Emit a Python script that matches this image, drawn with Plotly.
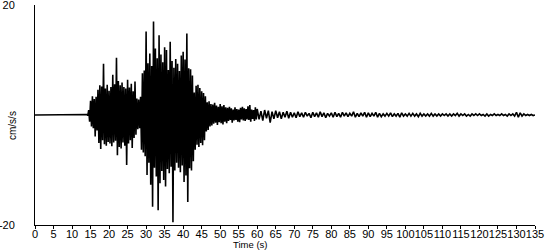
import numpy as np
import plotly.graph_objects as go

# Quiet lead-in (s, cm/s/s)
t_lead = [0.0, 13.75]
v_lead = [0.0, 0.0]

# Strong-motion part: samples every 0.25 s starting at 14.0 s (4 per line = 1 s)
dt_dense = 0.25
t_dense_start = 14.0
v_dense = [
    0.1, -0.1, 0.9, -1.2,     # 14
    2.6, -2.1, 3.4, -2.4,     # 15
    2.9, -3.9, 3.3, -2.8,     # 16
    4.6, -5.1, 5.4, -6.2,     # 17
    5.2, -4.6, 9.3, -5.3,     # 18
    4.8, -5.6, 5.5, -4.9,     # 19
    4.4, -5.2, 5.1, -5.7,     # 20
    7.3, -5.0, 5.6, -4.7,     # 21
    10.4, -7.3, 6.2, -5.8,    # 22
    5.4, -6.1, 5.9, -5.0,     # 23
    5.1, -5.6, 4.8, -9.1,     # 24
    6.4, -5.2, 5.0, -4.6,     # 25
    5.7, -6.0, 4.3, -4.2,     # 26
    6.1, -3.6, 3.0, -2.6,     # 27
    2.8, -2.4, 3.3, -6.3,     # 28
    7.6, -6.8, 8.1, -7.5,     # 29
    15.2, -10.9, 9.4, -8.7,   # 30
    11.2, -12.7, 8.9, -16.7,  # 31
    17.0, -9.6, 12.1, -11.2,  # 32
    10.3, -17.3, 14.5, -12.4, # 33
    11.0, -10.2, 9.6, -11.8,  # 34
    12.3, -13.0, 11.8, -9.8,  # 35
    8.2, -10.6, 13.3, -9.4,   # 36
    9.8, -19.5, 8.6, -10.1,   # 37
    10.2, -8.7, 9.3, -9.6,    # 38
    8.0, -10.4, 10.8, -9.2,   # 39
    11.5, -12.2, 10.1, -11.0, # 40
    14.8, -15.8, 8.5, -9.7,   # 41
    8.3, -10.1, 7.2, -8.4,    # 42
    4.1, -6.3, 5.3, -5.4,     # 43
    5.5, -5.8, 4.9, -5.1,     # 44
    4.3, -5.5, 4.0, -4.6,     # 45
    3.4, -3.0, 2.3, -2.7,     # 46
    2.5, -2.1, 2.0, -1.9,     # 47
    1.9, -1.6, 2.2, -1.4,     # 48
    1.7, -1.8, 1.5, -1.3,     # 49
    2.0, -1.5, 1.6, -1.7,     # 50
    1.8, -1.2, 1.4, -1.5,     # 51
    1.3, -1.1, 1.5, -0.9,     # 52
    1.2, -1.4, 1.0, -1.0,     # 53
    1.4, -0.9, 1.1, -1.2,     # 54
    1.0, -1.3, 1.3, -0.8,     # 55
    1.5, -1.0, 1.2, -1.1,     # 56
    1.1, -0.8, 1.6, -0.9,     # 57
    1.8, -1.2, 1.0, -0.7,     # 58
    0.9, -1.1, 1.4, -0.8,     # 59
]

# Coda: samples every 0.5 s starting at 60 s (10 per line = 5 s)
dt_tail = 0.5
t_tail_start = 60.0
v_tail = [
    1.1, -0.8, 0.7, -1.0, 0.9, -0.6, 0.8, -1.4, 0.6, -0.7,   # 60
    0.8, -0.5, 0.6, -0.7, 0.5, -0.4, 0.7, -0.6, 0.5, -0.4,   # 65
    0.4, -0.5, 0.6, -0.3, 0.4, -0.4, 0.5, -0.2, 0.3, -0.5,   # 70
    0.5, -0.3, 0.4, -0.4, 0.6, -0.3, 0.4, -0.5, 0.3, -0.2,   # 75
    0.4, -0.4, 0.5, -0.3, 0.3, -0.4, 0.5, -0.2, 0.4, -0.3,   # 80
    0.3, -0.2, 0.6, -0.4, 0.3, -0.3, 0.4, -0.2, 0.5, -0.4,   # 85
    0.4, -0.3, 0.3, -0.2, 0.5, -0.4, 0.3, -0.3, 0.2, -0.2,   # 90
    0.3, -0.2, 0.4, -0.3, 0.2, -0.2, 0.3, -0.4, 0.4, -0.2,   # 95
    0.2, -0.2, 0.3, -0.2, 0.3, -0.2, 0.2, -0.3, 0.3, -0.2,   # 100
    0.2, -0.2, 0.2, -0.2, 0.3, -0.2, 0.2, -0.2, 0.2, -0.2,   # 105
    0.2, -0.1, 0.2, -0.2, 0.2, -0.2, 0.2, -0.1, 0.3, -0.2,   # 110
    0.2, -0.1, 0.2, -0.2, 0.1, -0.2, 0.2, -0.1, 0.2, -0.1,   # 115
    0.2, -0.1, 0.1, -0.2, 0.2, -0.2, 0.1, -0.1, 0.2, -0.1,   # 120
    0.1, -0.1, 0.2, -0.1, 0.1, -0.2, 0.2, -0.1, 0.2, -0.2,   # 125
    0.5, -0.4, 0.4, -0.2, 0.2, -0.1, 0.1, -0.1, 0.1, -0.1,   # 130
    0.0,                                                     # 135
]

x_ticks = list(range(0, 136, 5))
y_ticks = [-20, 20]

t_dense = t_dense_start + dt_dense * np.arange(len(v_dense))
t_tail = t_tail_start + dt_tail * np.arange(len(v_tail))
t_all = np.concatenate([t_lead, t_dense, t_tail])
v_all = np.concatenate([v_lead, v_dense, v_tail])

FONT = "Liberation Sans, Arial, sans-serif"

fig = go.Figure()
fig.add_trace(go.Scatter(x=t_all, y=v_all, mode="lines",
                         line=dict(color="black", width=1.6), hoverinfo="skip"))

fig.update_layout(
    width=550, height=250,
    margin=dict(l=35, r=15, t=5, b=25, autoexpand=False),
    paper_bgcolor="white", plot_bgcolor="white",
    showlegend=False,
    font=dict(family=FONT, size=11, color="black"),
    xaxis=dict(range=[0, 135], tickvals=x_ticks, ticktext=[str(v) for v in x_ticks],
               tickangle=0, showgrid=False, zeroline=False, automargin=False,
               showline=True, linecolor="black", linewidth=1,
               ticks="outside", ticklen=3, tickcolor="black",
               ticklabelstandoff=-4,
               tickfont=dict(family=FONT, size=11)),
    yaxis=dict(range=[-20, 20], tickvals=y_ticks, ticktext=[str(v) for v in y_ticks],
               showgrid=False, zeroline=False, automargin=False,
               showline=True, linecolor="black", linewidth=1,
               ticks="", ticklabelstandoff=17, ticklabeloverflow="allow",
               tickfont=dict(family=FONT, size=11)),
    annotations=[
        dict(text="Time (s)", xref="paper", yref="paper", x=0.43, y=-0.09,
             xanchor="center", yanchor="middle", showarrow=False, borderpad=0,
             font=dict(family=FONT, size=9.5, color="black")),
        dict(text="cm/s/s", xref="paper", yref="paper", x=-0.046, y=0.45,
             xanchor="center", yanchor="middle", textangle=-90, showarrow=False,
             font=dict(family=FONT, size=10, color="black")),
    ],
)

fig.write_html("out.html")
